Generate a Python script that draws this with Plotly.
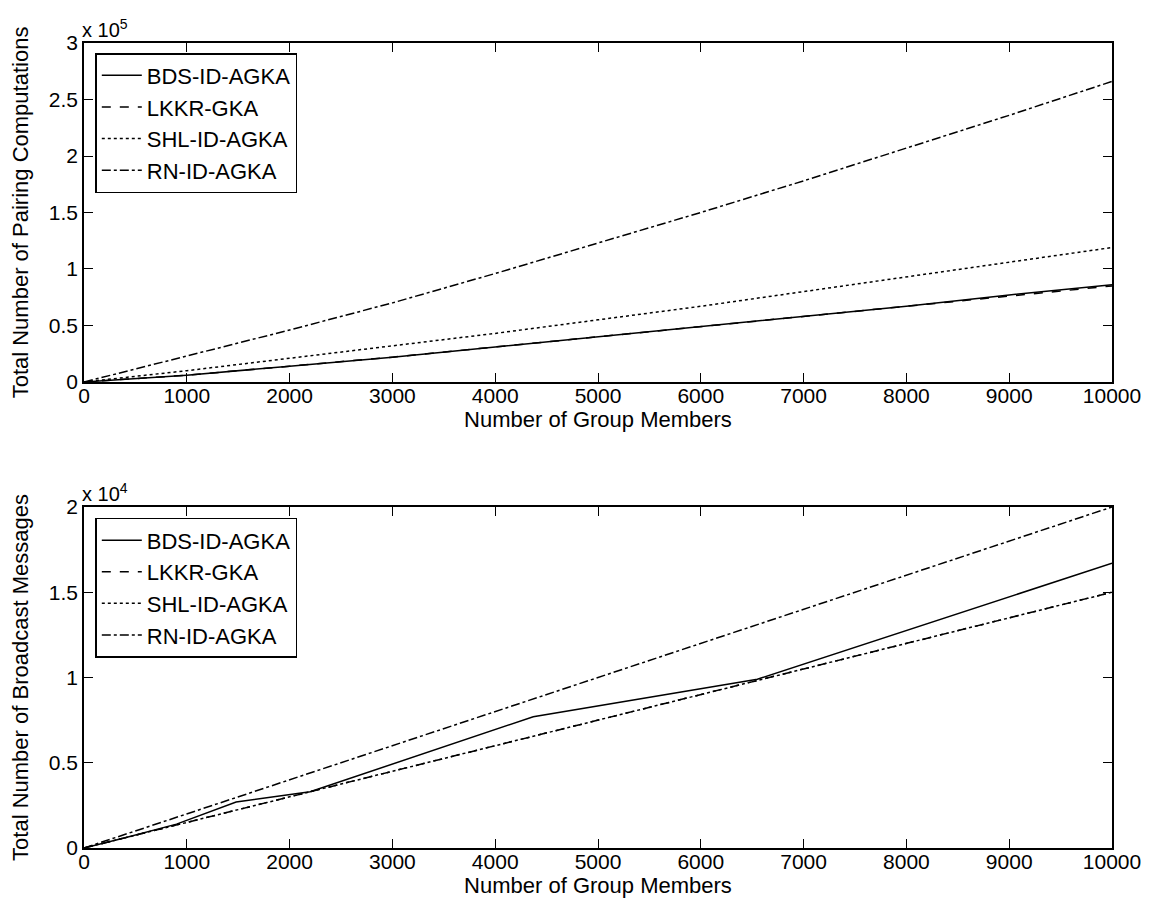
import plotly.graph_objects as go

# x values: number of group members
members = [0, 1000, 2000, 3000, 4000, 5000, 6000, 7000, 8000, 9000, 10000]

# Top panel: total number of pairing computations (units of 1e5)
pair_bds = [0, 0.06, 0.14, 0.22, 0.31, 0.40, 0.49, 0.58, 0.67, 0.77, 0.86]
pair_lkkr = [0, 0.06, 0.14, 0.22, 0.31, 0.40, 0.49, 0.58, 0.67, 0.76, 0.85]
pair_shl = [0, 0.10, 0.21, 0.32, 0.43, 0.55, 0.67, 0.80, 0.93, 1.06, 1.19]
pair_rn = [0, 0.23, 0.46, 0.70, 0.96, 1.23, 1.50, 1.78, 2.07, 2.36, 2.66]

# Bottom panel: total number of broadcast messages (units of 1e4)
bds_x = [0, 400, 900, 1480, 2200, 4370, 6550, 10000]
bcast_bds = [0, 0.06, 0.14, 0.27, 0.33, 0.77, 0.99, 1.67]
bcast_lkkr = [0, 0.15, 0.30, 0.45, 0.60, 0.75, 0.90, 1.05, 1.20, 1.35, 1.50]
bcast_shl = [0, 0.15, 0.30, 0.45, 0.60, 0.75, 0.90, 1.05, 1.20, 1.35, 1.50]
bcast_rn = [0, 0.20, 0.40, 0.60, 0.80, 1.00, 1.20, 1.40, 1.60, 1.80, 2.00]

names = ["BDS-ID-AGKA", "LKKR-GKA", "SHL-ID-AGKA", "RN-ID-AGKA"]
dashes = ["solid", "dash", "dot", "dashdot"]

x_ticks = list(range(0, 10001, 1000))
x_ticktext = [str(v) for v in x_ticks]
top_ticks = [0, 0.5, 1, 1.5, 2, 2.5, 3]
top_ticktext = ["0", "0.5", "1", "1.5", "2", "2.5", "3"]
bot_ticks = [0, 0.5, 1, 1.5, 2]
bot_ticktext = ["0", "0.5", "1", "1.5", "2"]

FONT = "Liberation Sans, Arial, Helvetica, sans-serif"

fig = go.Figure()

top_series = [(members, pair_bds), (members, pair_lkkr), (members, pair_shl), (members, pair_rn)]
bot_series = [(bds_x, bcast_bds), (members, bcast_lkkr), (members, bcast_shl), (members, bcast_rn)]

for (xs, ys), name, dash in zip(top_series, names, dashes):
    fig.add_trace(go.Scatter(x=xs, y=ys, mode="lines", name=name,
                             line=dict(color="black", width=1.5, dash=dash),
                             xaxis="x", yaxis="y", legend="legend"))
for (xs, ys), name, dash in zip(bot_series, names, dashes):
    fig.add_trace(go.Scatter(x=xs, y=ys, mode="lines", name=name,
                             line=dict(color="black", width=1.5, dash=dash),
                             xaxis="x2", yaxis="y2", legend="legend2"))

axis_common = dict(showline=True, linecolor="black", linewidth=1.5, mirror="ticks",
                   ticks="inside", ticklen=9, tickcolor="black", tickwidth=1,
                   showgrid=False, zeroline=False, automargin=False,
                   tickfont=dict(size=21, color="black", family=FONT))

TITLE_SIZE = 22
TOP_DOM = [0.5789, 1]
BOT_DOM = [0, 0.4236]

legend_common = dict(xanchor="left", yanchor="top",
                     bordercolor="black", borderwidth=1.5, bgcolor="white",
                     font=dict(size=22, family=FONT), tracegroupgap=0,
                     itemwidth=40)

# the page body has an 8px margin, so the figure is 8px smaller and offset
fig.update_layout(
    width=1147, height=902,
    paper_bgcolor="white", plot_bgcolor="white",
    margin=dict(l=76, r=43, t=35, b=62),
    font=dict(family=FONT, color="black"),
    xaxis=dict(domain=[0, 1], anchor="y", range=[0, 10000],
               tickvals=x_ticks, ticktext=x_ticktext, ticklabelstandoff=-6,
               title=dict(text="Number of Group Members", font=dict(size=TITLE_SIZE), standoff=0),
               **axis_common),
    yaxis=dict(domain=TOP_DOM, anchor="x", range=[0, 3],
               tickvals=top_ticks, ticktext=top_ticktext,
               title=dict(text="Total Number of Pairing Computations", font=dict(size=TITLE_SIZE), standoff=14),
               **axis_common),
    xaxis2=dict(domain=[0, 1], anchor="y2", range=[0, 10000],
                tickvals=x_ticks, ticktext=x_ticktext, ticklabelstandoff=-6,
                title=dict(text="Number of Group Members", font=dict(size=TITLE_SIZE), standoff=0),
                **axis_common),
    yaxis2=dict(domain=BOT_DOM, anchor="x2", range=[0, 2],
                tickvals=bot_ticks, ticktext=bot_ticktext,
                title=dict(text="Total Number of Broadcast Messages", font=dict(size=TITLE_SIZE), standoff=14),
                **axis_common),
    legend=dict(x=0.011, y=0.9875, **legend_common),
    legend2=dict(x=0.011, y=BOT_DOM[1] - 0.0135, **legend_common),
    annotations=[
        dict(text="x 10<sup>5</sup>", xref="paper", yref="paper", x=0, y=TOP_DOM[1],
             xanchor="left", yanchor="bottom", showarrow=False,
             font=dict(size=20, family=FONT), yshift=0, xshift=-4),
        dict(text="x 10<sup>4</sup>", xref="paper", yref="paper", x=0, y=BOT_DOM[1],
             xanchor="left", yanchor="bottom", showarrow=False,
             font=dict(size=20, family=FONT), yshift=0, xshift=-4),
    ],
)

fig.write_html("out.html")
